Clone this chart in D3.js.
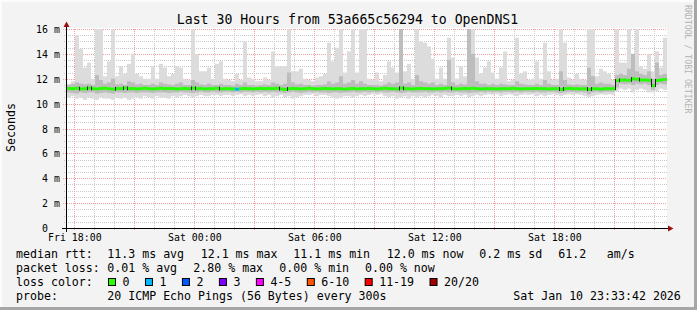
<!DOCTYPE html>
<html><head><meta charset="utf-8">
<script src="https://cdn.jsdelivr.net/npm/d3@7"></script>
<style>html,body{margin:0;padding:0;background:#f3f3f3;}svg{display:block;}</style>
</head><body><svg id="c" width="697" height="310"></svg>
<script>
const titleText = "Last 30 Hours from 53a665c56294 to OpenDNS1";
const yAxisLabel = "Seconds";
const watermark = "RRDTOOL / TOBI OETIKER";
const yTicks = [0, 2, 4, 6, 8, 10, 12, 14, 16];
const xTickLabels = ["Fri 18:00", "Sat 00:00", "Sat 06:00", "Sat 12:00", "Sat 18:00"];
const startTime = Date.UTC(2026, 0, 9, 17, 38);
const spanHours = 30;
const stepMinutes = 12;

// median rtt per 12-minute column (ms)
const median = [
11.22,11.2,11.24,11.18,11.2,11.26,11.2,11.18,11.22,11.24,
11.2,11.16,11.22,11.2,11.26,11.2,11.22,11.18,11.2,11.24,
11.2,11.18,11.2,11.24,11.2,11.22,11.2,11.18,11.2,11.22,
11.2,11.26,11.2,11.22,11.18,11.2,11.2,11.24,11.18,11.2,
11.2,11.18,11.16,11.2,11.22,11.2,11.18,11.2,11.22,11.2,
11.22,11.2,11.24,11.18,11.14,11.2,11.22,11.2,11.18,11.2,
11.24,11.2,11.18,11.2,11.22,11.2,11.18,11.2,11.2,11.16,
11.2,11.22,11.18,11.2,11.2,11.22,11.2,11.18,11.2,11.24,
11.2,11.2,11.18,11.26,11.2,11.2,11.18,11.2,11.22,11.2,
11.2,11.18,11.2,11.2,11.22,11.26,11.2,11.18,11.2,11.22,
11.2,11.24,11.2,11.18,11.2,11.2,11.2,11.18,11.2,11.2,
11.2,11.22,11.2,11.18,11.2,11.2,11.2,11.22,11.2,11.2,
11.18,11.2,11.2,11.14,11.2,11.22,11.2,11.2,11.18,11.2,
11.14,11.2,11.2,11.16,11.2,11.2,11.2,11.85,11.9,11.9,
11.88,12.0,11.96,11.9,11.9,11.88,11.45,11.86,11.9,11.95];

// top of light smoke (ms)
const smokeHi = [
11.6,11.8,15.5,14.4,12.9,13.3,12.0,16.5,16.5,12.2,
13.4,16.5,12.2,13.0,12.4,13.2,14.0,12.4,12.2,12.0,
12.0,13.0,12.0,13.2,12.9,12.2,12.4,13.0,12.9,12.0,
11.9,16.5,14.0,12.6,12.6,12.9,12.0,13.2,13.4,12.0,
11.9,11.8,12.4,11.9,15.0,12.1,12.0,11.8,11.8,12.1,
11.9,14.2,13.0,13.0,13.0,16.5,12.6,12.6,12.8,12.0,
11.9,11.8,12.1,12.2,12.4,14.9,13.4,14.5,16.5,12.5,
14.2,16.5,12.5,16.0,16.5,12.0,11.9,12.5,11.8,12.3,
13.4,12.9,12.5,16.5,12.6,13.2,12.0,16.5,15.0,14.9,
14.6,13.6,12.0,12.9,12.0,15.3,13.7,12.0,13.0,12.2,
16.5,16.5,13.7,12.4,12.9,13.4,12.5,12.0,12.9,14.2,
11.8,11.9,15.3,12.4,12.6,11.9,12.0,13.4,12.0,14.9,
12.6,11.9,12.0,16.5,14.9,12.1,11.9,12.4,12.0,11.9,
16.5,16.5,12.2,12.8,12.6,12.4,11.9,16.5,13.3,13.3,
16.5,14.0,16.5,13.0,12.8,14.0,12.6,14.2,12.9,15.3];

// top of darker (inner) smoke (ms)
const smokeMidHi = [
11.5,11.6,11.7,11.6,11.55,11.6,11.5,12.3,11.9,11.6,
11.7,12.0,11.55,11.6,11.5,11.8,11.7,11.55,11.6,11.5,
11.5,11.6,11.5,11.7,11.6,11.55,11.5,11.6,11.7,11.5,
11.5,11.9,11.7,11.55,11.5,11.6,11.5,11.5,11.6,11.5,
11.5,11.45,11.6,11.5,11.7,11.5,11.5,11.45,11.5,11.55,
11.5,11.7,11.6,11.5,11.6,12.5,11.7,11.55,11.6,11.5,
11.5,11.45,11.5,11.5,11.55,11.8,11.6,11.7,12.2,11.6,
11.7,11.9,11.6,11.8,11.6,11.5,11.5,11.5,11.45,11.55,
11.7,11.6,11.7,16.5,11.6,11.7,11.5,12.3,11.8,11.7,
11.6,11.7,11.5,11.6,11.5,13.5,11.7,11.5,11.6,11.55,
16.5,14.0,11.8,11.6,11.6,11.5,11.6,11.5,11.6,11.55,
11.5,11.5,11.8,11.6,11.55,11.5,11.5,11.6,11.5,11.9,
11.6,11.5,11.5,12.6,11.9,11.55,11.5,11.55,11.5,11.5,
12.9,12.2,11.6,11.7,11.6,11.6,11.5,12.3,12.4,12.3,
12.8,14.0,12.6,12.4,12.3,12.6,12.0,13.3,12.3,12.4];

// bottom of darker (inner) smoke (ms)
const smokeMidLo = [
10.9,10.85,10.8,10.9,10.85,10.9,10.9,10.8,10.85,10.9,
10.85,10.8,10.9,10.9,10.85,10.9,10.9,10.85,10.9,10.9,
10.9,10.85,10.9,10.9,10.9,10.85,10.9,10.9,10.95,10.9,
10.9,10.85,10.9,10.95,10.9,10.9,10.95,10.9,10.9,10.95,
10.95,10.9,10.95,10.9,10.95,10.95,10.9,10.95,10.9,10.95,
10.9,10.95,10.9,10.9,10.85,10.9,10.95,10.9,10.85,10.9,
10.95,10.9,10.95,10.9,10.9,10.85,10.9,10.9,10.85,10.9,
10.9,10.95,10.9,10.9,10.95,10.9,10.95,10.9,10.95,10.9,
10.9,10.95,10.9,10.85,10.9,10.95,10.9,10.9,10.9,10.95,
10.9,10.9,10.95,10.9,10.95,10.9,10.9,10.95,10.9,10.9,
10.85,10.9,10.9,10.95,10.9,10.95,10.9,10.95,10.9,10.95,
10.95,10.9,10.95,10.9,10.95,10.95,10.9,10.95,10.9,10.9,
10.95,10.95,10.9,10.85,10.9,10.95,10.95,10.9,10.95,10.9,
10.75,10.9,10.95,10.9,10.95,10.95,10.95,11.3,11.6,11.55,
11.6,11.5,11.6,11.55,11.6,11.5,11.1,11.5,11.6,11.55];

// bottom of light smoke (ms)
const smokeLo = [
10.5,10.6,10.4,10.5,10.3,10.5,10.4,10.3,10.5,10.4,
10.4,10.3,10.5,10.4,10.5,10.3,10.4,10.5,10.4,10.6,
10.5,10.4,10.6,10.5,10.5,10.4,10.6,10.5,10.6,10.7,
10.6,10.5,10.6,10.7,10.6,10.6,10.7,10.7,10.6,10.7,
10.7,10.6,10.7,10.75,10.6,10.7,10.6,10.7,10.75,10.6,
10.7,10.5,10.6,10.7,10.5,10.6,10.4,10.5,10.6,10.7,
10.7,10.75,10.6,10.7,10.7,10.6,10.5,10.4,10.5,10.6,
10.6,10.5,10.6,10.7,10.6,10.7,10.75,10.7,10.75,10.6,
10.5,10.6,10.4,10.5,10.6,10.4,10.6,10.5,10.6,10.5,
10.6,10.7,10.6,10.5,10.7,10.6,10.6,10.7,10.6,10.7,
10.5,10.6,10.7,10.6,10.7,10.75,10.7,10.75,10.6,10.7,
10.75,10.7,10.6,10.7,10.75,10.7,10.75,10.6,10.7,10.6,
10.7,10.75,10.7,10.6,10.7,10.75,10.7,10.75,10.7,10.6,
10.5,10.6,10.7,10.75,10.7,10.75,10.7,11.0,11.2,11.1,
11.2,10.9,11.1,11.2,11.1,10.9,10.9,11.0,11.2,11.1];

// columns with packet loss and their loss class index
const lossColumns = [42];
const lossClasses = [1];

const lossLabels = ["0", "1", "2", "3", "4-5", "6-10", "11-19", "20/20"];
const lossColors = ["#26ff00", "#00b8ff", "#0059ff", "#7e00ff", "#ff00ff", "#ff5500", "#ff0000", "#a10000"];

const rttLabel = "median rtt:";
const rttItems = ["11.3 ms avg", "12.1 ms max", "11.1 ms min", "12.0 ms now", "0.2 ms sd", "61.2", "am/s"];
const lossLabel = "packet loss:";
const lossItems = ["0.01 % avg", "2.80 % max", "0.00 % min", "0.00 % now"];
const colorLabel = "loss color:";
const probeLabel = "probe:";
const probeText = "20 ICMP Echo Pings (56 Bytes) every 300s";
const dateText = "Sat Jan 10 23:33:42 2026";

// ---------- drawing ----------
const W = 697, H = 310;
const MONO = "'DejaVu Sans Mono', 'Liberation Mono', monospace";
const svg = d3.select("#c");
const endTime = startTime + spanHours * 3600e3;
const x = d3.scaleUtc().domain([startTime, endTime]).range([67, 667]);
const y = d3.scaleLinear().domain([0, 16]).range([228, 29]);
const colT = i => startTime + i * stepMinutes * 60e3;

svg.append("rect").attr("width", W).attr("height", H).attr("fill", "#f3f3f3");
// 3d frame
svg.append("rect").attr("x", 0).attr("y", 0).attr("width", W).attr("height", 2).attr("fill", "#fcfcfc");
svg.append("rect").attr("x", 0).attr("y", 0).attr("width", 2).attr("height", H).attr("fill", "#fcfcfc");
svg.append("rect").attr("x", W - 3).attr("y", 0).attr("width", 3).attr("height", H).attr("fill", "#a6a6a6");
svg.append("rect").attr("x", 0).attr("y", H - 3).attr("width", W).attr("height", 3).attr("fill", "#a6a6a6");

// canvas
svg.append("rect").attr("x", 67).attr("y", 28).attr("width", 600).attr("height", 200).attr("fill", "#ffffff");

// grid
const grid = svg.append("g");
const px = v => Math.round(v) + 0.5;
const hMinor = d3.range(0, 16.001, 0.5).filter(v => Math.abs(v / 2 - Math.round(v / 2)) > 1e-6);
grid.selectAll("line.hmin").data(hMinor).join("line")
  .attr("x1", 64).attr("x2", 667).attr("y1", d => px(y(d))).attr("y2", d => px(y(d)))
  .attr("stroke", "#c8c8c8").attr("stroke-dasharray", "1,1");
grid.selectAll("line.hmaj").data(yTicks).join("line")
  .attr("x1", 63).attr("x2", 667).attr("y1", d => px(y(d))).attr("y2", d => px(y(d)))
  .attr("stroke", "#f2a0a0").attr("stroke-dasharray", "1,1");
const hours = d3.utcHour.range(startTime, endTime);
grid.selectAll("line.v").data(hours).join("line")
  .attr("x1", d => px(x(d))).attr("x2", d => px(x(d)))
  .attr("y1", 29).attr("y2", 231)
  .attr("stroke", d => d.getUTCHours() % 3 === 0 ? "#f2a0a0" : "#c8c8c8")
  .attr("stroke-dasharray", "1,1");

// smoke
svg.append("clipPath").attr("id", "clip").append("rect").attr("x", 67).attr("y", 29).attr("width", 600).attr("height", 199);
const smoke = svg.append("g").attr("clip-path", "url(#clip)");
const idx = d3.range(median.length);
smoke.selectAll("rect.l").data(idx).join("rect")
  .attr("x", i => x(colT(i))).attr("width", i => x(colT(i + 1)) - x(colT(i)))
  .attr("y", i => y(smokeHi[i])).attr("height", i => y(smokeLo[i]) - y(smokeHi[i]))
  .attr("fill", "#dcdcdc");
smoke.selectAll("rect.m").data(idx).join("rect")
  .attr("x", i => x(colT(i))).attr("width", i => x(colT(i + 1)) - x(colT(i)))
  .attr("y", i => y(smokeMidHi[i])).attr("height", i => y(smokeMidLo[i]) - y(smokeMidHi[i]))
  .attr("fill", "#bdbdbd");

// median line coloured by loss
const lossOf = i => { const k = lossColumns.indexOf(i); return k < 0 ? 0 : lossClasses[k]; };
smoke.selectAll("rect.med").data(idx).join("rect")
  .attr("x", i => x(colT(i))).attr("width", i => x(colT(i + 1)) - x(colT(i)))
  .attr("y", i => y(median[i]) - 1.5).attr("height", 3)
  .attr("fill", i => lossColors[lossOf(i)]);
const steps = idx.slice(1).filter(i => Math.abs(median[i] - median[i - 1]) > 0.05);
smoke.selectAll("line.st").data(steps).join("line")
  .attr("x1", i => x(colT(i)) + 0.5).attr("x2", i => x(colT(i)) + 0.5)
  .attr("y1", i => Math.min(y(median[i]), y(median[i - 1])) - 1.5)
  .attr("y2", i => Math.max(y(median[i]), y(median[i - 1])) + 1.5)
  .attr("stroke", "#1a1a1a").attr("stroke-width", 1);

// axes
svg.append("line").attr("x1", 62).attr("x2", 669).attr("y1", 228.5).attr("y2", 228.5).attr("stroke", "#000");
svg.append("line").attr("x1", 66.5).attr("x2", 66.5).attr("y1", 232).attr("y2", 26).attr("stroke", "#000");
svg.append("path").attr("d", "M668,225.5L673.5,228.5L668,231.5Z").attr("fill", "#9a1010");
svg.append("path").attr("d", "M63.5,27L66.5,21.5L69.5,27Z").attr("fill", "#9a1010");

// y tick labels
const yl = svg.append("g").attr("font-family", MONO).attr("font-size", "9.9px").attr("fill", "#000");
yl.selectAll("text.n").data(yTicks).join("text")
  .attr("x", 48).attr("y", d => Math.round(y(d)) + 4).attr("text-anchor", "end").text(d => d);
yl.selectAll("text.u").data(yTicks.filter(d => d !== 0)).join("text")
  .attr("x", 54).attr("y", d => Math.round(y(d)) + 4).text("m");

// x tick labels via axis
const xTickDates = d3.utcHour.every(6).range(startTime, endTime);
const xAxis = d3.axisBottom(x).tickValues(xTickDates).tickFormat((d, i) => xTickLabels[i]).tickSize(0).tickPadding(0);
const xg = svg.append("g").attr("transform", "translate(0,231)").call(xAxis);
xg.select(".domain").remove();
xg.selectAll("text").attr("font-family", MONO).attr("font-size", "9.9px").attr("fill", "#000").attr("dy", "0").attr("y", 10);

// title
svg.append("text").attr("x", 347.5).attr("y", 24).attr("text-anchor", "middle")
  .attr("font-family", MONO).attr("font-size", "13.2px").attr("fill", "#000").text(titleText);
// y label
svg.append("text").attr("transform", "translate(14.5,127.5) rotate(-90)").attr("text-anchor", "middle")
  .attr("font-family", MONO).attr("font-size", "11.6px").attr("fill", "#000").text(yAxisLabel);
// watermark
svg.append("text").attr("transform", "translate(685,5) rotate(90)").attr("text-anchor", "start")
  .attr("font-family", MONO).attr("font-size", "8.2px").attr("fill", "#b4b4b4").text(watermark);

// legend
const lg = svg.append("g").attr("font-family", MONO).attr("font-size", "11.6px").attr("fill", "#000");
const rttX = [107.3, 200.7, 293.3, 386.7, 479.3, 558.3, 606.7];
lg.append("text").attr("x", 16).attr("y", 258).text(rttLabel);
rttItems.forEach((t, i) => lg.append("text").attr("x", rttX[i]).attr("y", 258).text(t));
const lossX = [107.3, 193.3, 279.3, 365];
lg.append("text").attr("x", 16).attr("y", 272).text(lossLabel);
lossItems.forEach((t, i) => lg.append("text").attr("x", lossX[i]).attr("y", 272).text(t));
lg.append("text").attr("x", 16).attr("y", 286).text(colorLabel);
let sx = 108;
lossLabels.forEach((t, i) => {
  lg.append("rect").attr("x", sx + 0.5).attr("y", 278.5).attr("width", 7).attr("height", 7)
    .attr("fill", lossColors[i]).attr("stroke", "#000").attr("stroke-width", 1);
  const lx = sx + 14.5;
  lg.append("text").attr("x", lx).attr("y", 286).text(t);
  sx = lx + t.length * 6.97 + 15.5;
});
lg.append("text").attr("x", 16).attr("y", 300).text(probeLabel);
lg.append("text").attr("x", 107.3).attr("y", 300).text(probeText);
lg.append("text").attr("x", 513.3).attr("y", 300).text(dateText);
</script></body></html>
